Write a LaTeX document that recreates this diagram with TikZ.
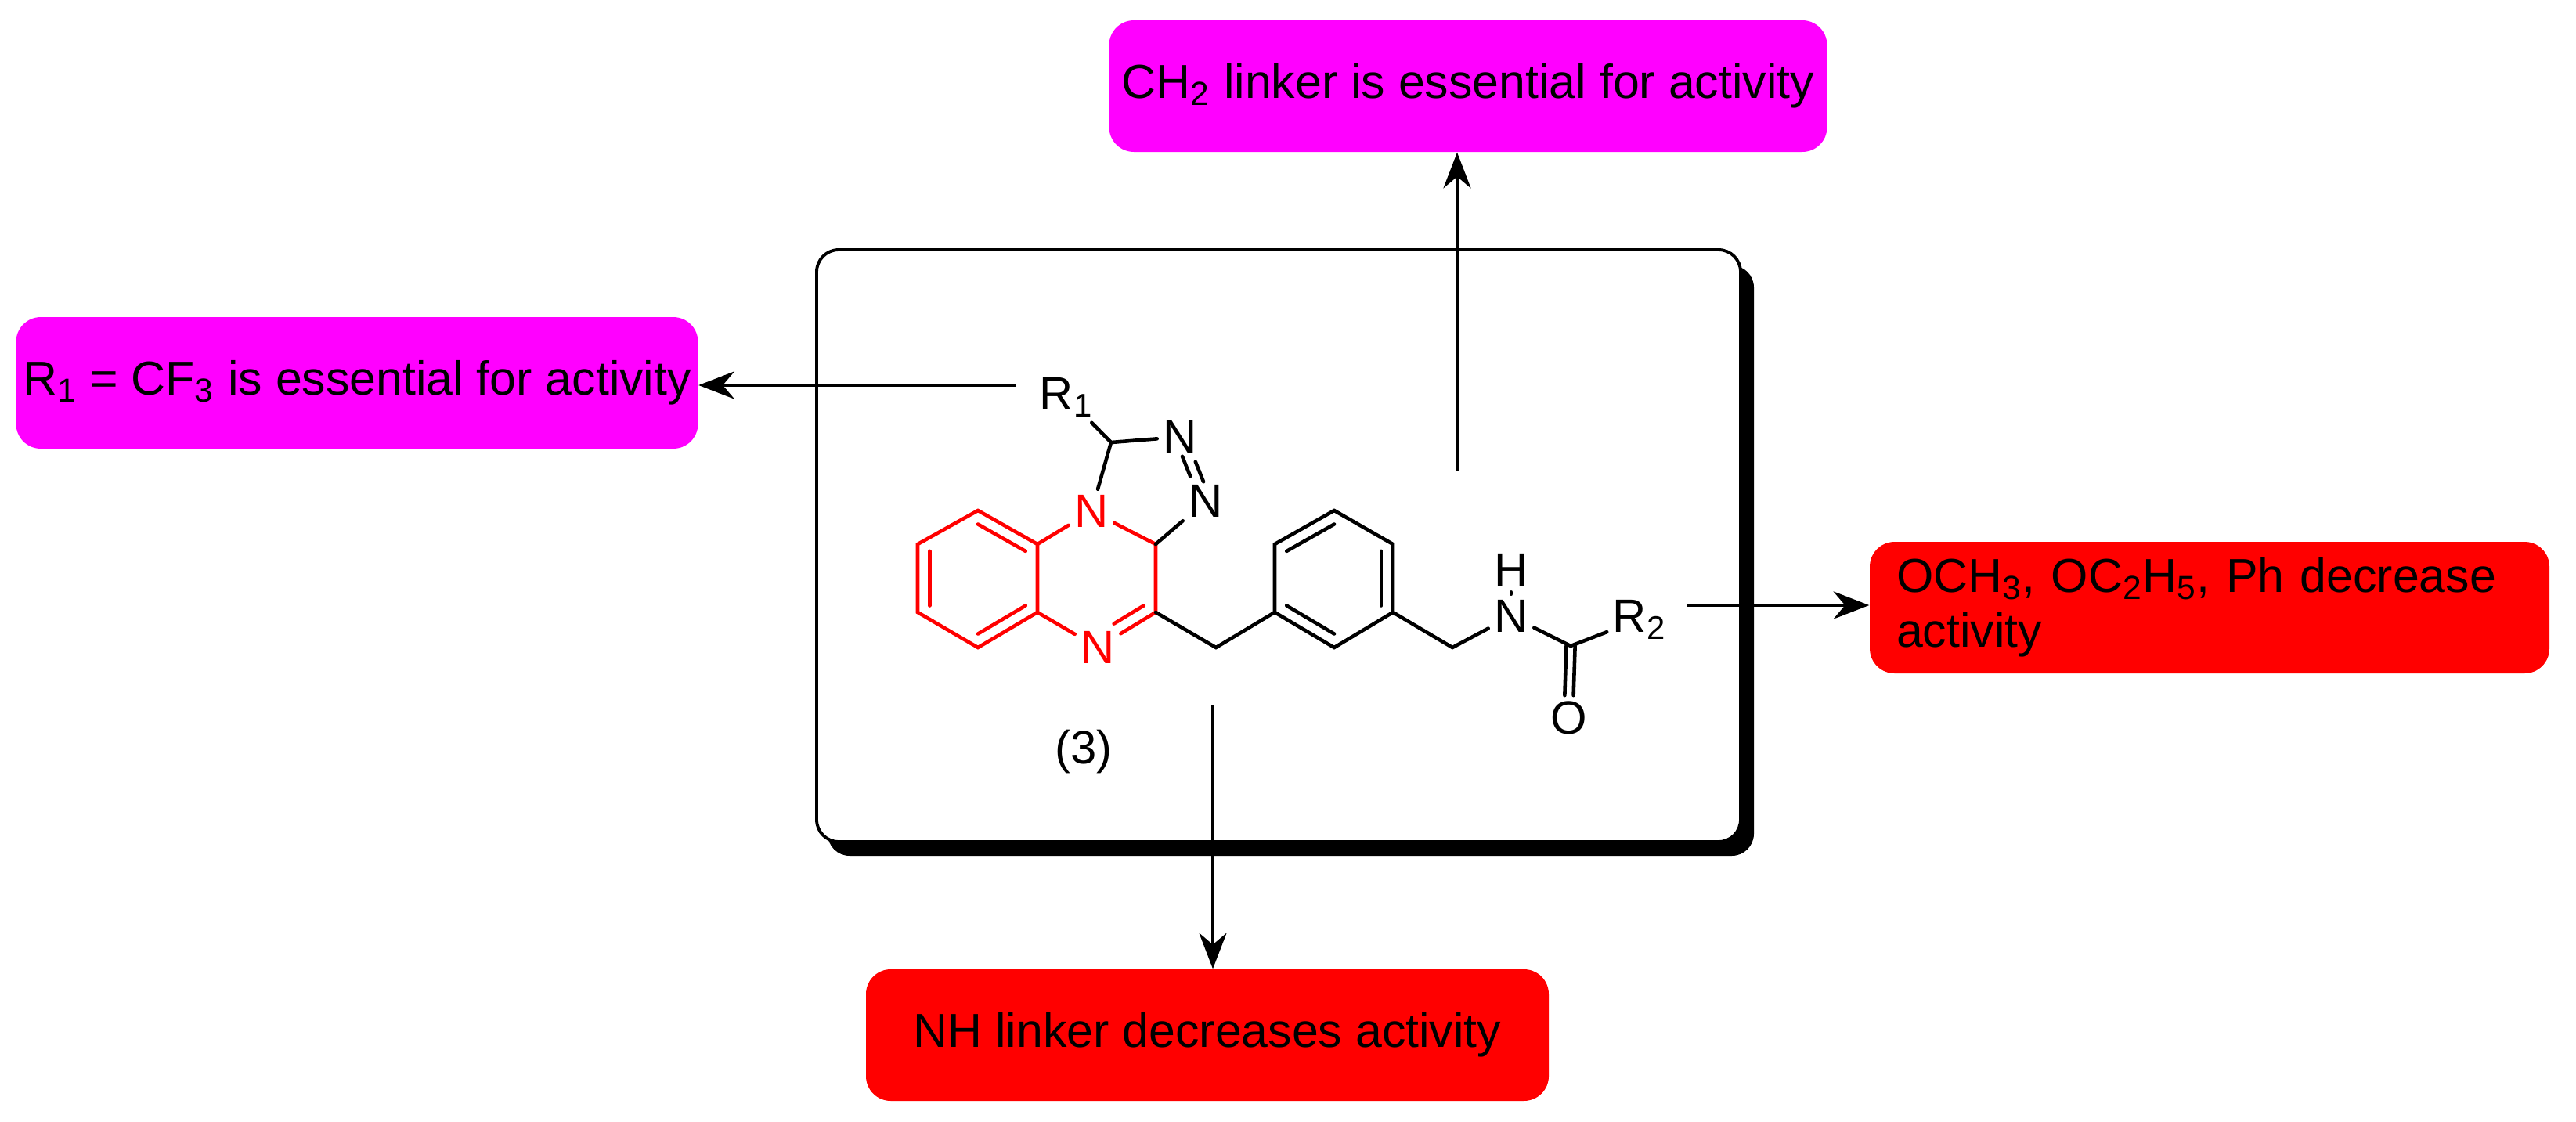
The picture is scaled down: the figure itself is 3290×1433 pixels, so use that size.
\documentclass[tikz,border=0pt]{standalone}
\usepackage{fontspec}
\setmainfont{Liberation Sans}
\usetikzlibrary{calc,arrows.meta}
\definecolor{mag}{RGB}{255,0,255}
\definecolor{rd}{RGB}{255,0,0}
\begin{document}
\begin{tikzpicture}[x=0.01cm,y=-0.01cm,
  bond/.style={line width=1.3pt,line cap=round},
  atom/.style={inner sep=2pt,font=\fontsize{17}{20}\selectfont},
  lbl/.style={rounded corners=9pt,minimum width=#1,minimum height=168*0.01cm,font=\fontsize{17.3}{20}\selectfont,inner sep=0pt},
  arr/.style={line width=1.1pt,-{Stealth[length=13pt,width=10pt]}},
  conn/.style={line width=1.1pt}]
\useasboundingbox (0,0) rectangle (3290,1433);
% main box with shadow
\fill[black,rounded corners=8pt] (1057,339) rectangle (2240,1093);
\draw[line width=1.1pt,fill=white,rounded corners=8pt] (1043,319) rectangle (2223,1075);
% labels boxes
\node[lbl=917*0.01cm,fill=mag] (top) at (1875,110) {CH\textsubscript{2} linker is essential for activity};
\node[lbl=871*0.01cm,fill=mag] (left) at (456,489) {R\textsubscript{1} = CF\textsubscript{3} is essential for activity};
\node[lbl=868*0.01cm,fill=rd,align=left,text width=800*0.01cm] (right) at (2822,776) {OCH\textsubscript{3}, OC\textsubscript{2}H\textsubscript{5}, Ph decrease\\activity};
\node[lbl=872*0.01cm,fill=rd] (bot) at (1542,1322) {NH linker decreases activity};
% atoms
\foreach \n/\p in {b1/{1249,652},b2/{1325,695},b3/{1325,782},b4/{1249,827},b5/{1172,782},b6/{1172,695},
  p1/{1704,652},p2/{1779,695},p3/{1779,782},p4/{1704,827},p5/{1628,782},p6/{1628,695},
  C3a/{1476,695},C4/{1476,782},C1/{1419,565},M1/{1553,827},M2/{1855,827},CO/{2006,825},
  cB/{1249,739.5},cP/{1704,739.5},cZ/{1400,739}}
  \coordinate (\n) at (\p);
\node[atom,text=rd] (N1) at (1394,653) {N};
\node[atom,text=rd] (N5) at (1402,827) {N};
\node[atom] (N2) at (1507,558) {N};
\node[atom] (N3) at (1540,640) {N};
\node[atom] (R1) at (1362,507) {R\textsubscript{1}};
\node[atom] (NH) at (1930,787) {N};
\node[atom] (H) at (1930,728) {H};
\node[atom] (O) at (2004,917) {O};
\node[atom] (R2) at (2094,791) {R\textsubscript{2}};
\node[atom] (cmp) at (1384,960) {(3)};
% red part
\begin{scope}[bond,rd]
\draw (b1)--(b2)--(b3)--(b4)--(b5)--(b6)--cycle;
\draw ($(b1)!0.2!(cB)$)--($(b2)!0.2!(cB)$);
\draw ($(b5)!0.2!(cB)$)--($(b6)!0.2!(cB)$);
\draw ($(b3)!0.2!(cB)$)--($(b4)!0.2!(cB)$);
\draw (b2)--(N1)--(C3a)--(C4)--(N5)--(b3);
\draw[shorten >=7pt] ($(C4)!0.2!(cZ)$)--($(1402,827)!0.2!(cZ)$);
\end{scope}
\begin{scope}[bond]
\draw (N1)--(C1)--(N2);
\draw (C1)--(R1);
\draw (C3a)--(N3);
\draw[transform canvas={xshift=2.4pt,yshift=-1pt}] (N2)--(N3);
\draw[transform canvas={xshift=-2.4pt,yshift=1pt}] (N2)--(N3);
\draw (C4)--(M1)--(p5);
\draw (p1)--(p2)--(p3)--(p4)--(p5)--(p6)--cycle;
\draw ($(p1)!0.2!(cP)$)--($(p6)!0.2!(cP)$);
\draw ($(p2)!0.2!(cP)$)--($(p3)!0.2!(cP)$);
\draw ($(p5)!0.2!(cP)$)--($(p4)!0.2!(cP)$);
\draw (p3)--(M2)--(NH)--(CO)--(R2);
\draw (NH)--(H);
\draw ([xshift=-1.6pt]CO)--([xshift=-1.6pt]O.north);
\draw ([xshift=1.6pt]CO)--([xshift=1.6pt]O.north);
\end{scope}
% connectors
\coordinate (s1) at (1298,492);
\coordinate (s2) at (1861,601);
\coordinate (s3) at (2154,773);
\coordinate (s4) at (1549,901);
\draw[arr] (s1) -- (s1 -| left.east);
\draw[arr] (s2) -- (s2 |- top.south);
\draw[arr] (s3) -- (s3 -| right.west);
\draw[arr] (s4) -- (s4 |- bot.north);
\end{tikzpicture}
\end{document}
